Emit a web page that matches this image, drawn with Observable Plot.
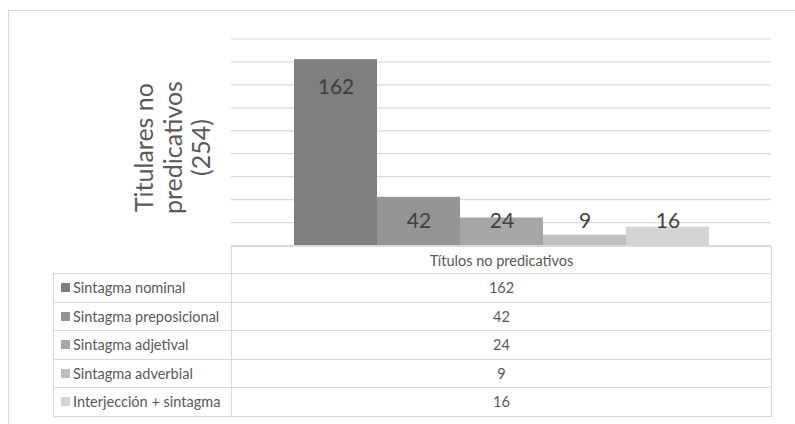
<!DOCTYPE html>
<html>
<head>
<meta charset="utf-8">
<script src="https://cdn.jsdelivr.net/npm/d3@7"></script>
<script src="https://cdn.jsdelivr.net/npm/@observablehq/plot@0.6"></script>
<style>
  html, body { margin: 0; padding: 0; background: #fff; }
  #page { position: relative; width: 795px; height: 424px; overflow: hidden; font-family: Lato, "Open Sans", sans-serif; }
  #frame { position: absolute; left: 8px; top: 10px; width: 800px; height: 430px; border-left: 1px solid #d9d9d9; border-top: 1px solid #d9d9d9; }
  #chart { position: absolute; left: 0; top: 0; }
  .cell { position: absolute; box-sizing: border-box; border: 1px solid #d9d9d9; color: #595959; font-size: 14.5px; display: flex; align-items: center; white-space: nowrap; }
  .key { display: inline-block; width: 9px; height: 9px; margin: 0 3px 0 7px; }
</style>
</head>
<body>
<div id="page">
  <div id="frame"></div>
  <div id="chart"></div>
  <div id="table"></div>
</div>
<script>
// Categories and counts of non-predicative headlines
const categories = [
  "Sintagma nominal",
  "Sintagma preposicional",
  "Sintagma adjetival",
  "Sintagma adverbial",
  "Interjección + sintagma"
];
const values = [162, 42, 24, 9, 16];
const seriesName = "Títulos no predicativos";
const axisTitle = "Titulares no\npredicativos\n(254)";
const gridTicks = [0, 20, 40, 60, 80, 100, 120, 140, 160, 180];
const palette = ["#7f7f7f", "#959595", "#a6a6a6", "#bfbfbf", "#d4d4d4"];

const data = categories.map((name, i) => ({name, value: values[i]}));

const chart = Plot.plot({
  width: 795,
  height: 246,
  marginLeft: 231,
  marginRight: 24,
  marginTop: 38.5,
  marginBottom: 1,
  style: {fontFamily: "Lato, 'Open Sans', sans-serif", background: "transparent"},
  x: {domain: categories, paddingInner: 0, paddingOuter: 0.745, axis: null},
  y: {domain: [0, 180], axis: null},
  color: {type: "ordinal", domain: categories, range: palette},
  marks: [
    Plot.ruleY(gridTicks, {stroke: "#d9d9d9", strokeWidth: 1.2}),
    Plot.barY(data, {x: "name", y: "value", fill: "name", inset: 0}),
    // value labels sit inside the top of each bar, kept above the lowest gridline for short bars
    Plot.text(data, {
      x: "name",
      y: d => Math.max(d.value - 24, 21.4),
      text: d => String(d.value),
      fill: "#404040",
      fontSize: 21
    }),
    // rotated three-line axis title, left of the plot area
    Plot.text([axisTitle], {
      frameAnchor: "left",
      text: d => d,
      textAnchor: "middle",
      lineAnchor: "middle",
      rotate: -90,
      dx: -59,
      dy: 5.3,
      lineHeight: 1.14,
      fontSize: 25,
      fill: "#595959"
    })
  ]
});
document.getElementById("chart").appendChild(chart);

// Data table below the plot: header row, then one row per category
const table = document.getElementById("table");
const colLeft = 53, colMid = 231, colRight = 771;
const headerTop = 246, headerH = 27, rowH = 28.5;

function cell(left, top, width, height, html, center) {
  const div = document.createElement("div");
  div.className = "cell";
  div.style.left = left + "px";
  div.style.top = top + "px";
  div.style.width = (width + 1) + "px";
  div.style.height = (height + 1) + "px";
  if (center) div.style.justifyContent = "center";
  div.innerHTML = html;
  table.appendChild(div);
}

cell(colMid, headerTop, colRight - colMid, headerH, seriesName, true);
data.forEach((d, i) => {
  const top = headerTop + headerH + i * rowH;
  cell(colLeft, top, colMid - colLeft, rowH,
    `<span class="key" style="background:${palette[i]}"></span>${d.name}`, false);
  cell(colMid, top, colRight - colMid, rowH, String(d.value), true);
});
</script>
</body>
</html>
